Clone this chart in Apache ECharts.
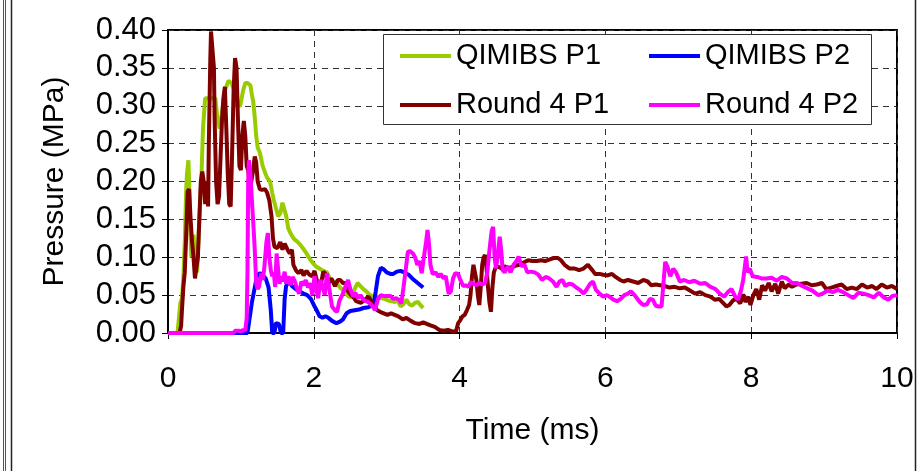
<!DOCTYPE html>
<html>
<head>
<meta charset="utf-8">
<script src="https://cdn.jsdelivr.net/npm/echarts@6/dist/echarts.min.js"></script>
<style>
html,body{margin:0;padding:0;background:#fff;}
#c{width:923px;height:471px;}
</style>
</head>
<body>
<div id="c"></div>
<script>
// Axis ticks
const xTicks = [0, 2, 4, 6, 8, 10];
const yTicks = [0, 0.05, 0.10, 0.15, 0.20, 0.25, 0.30, 0.35, 0.40];

// Series: [time (ms), pressure (MPa)]
const qimibsP1 = [[0,0],[0.13,0],[0.15,0.02],[0.17,0.04],[0.19,0.045],[0.21,0.07],[0.23,0.12],[0.25,0.19],[0.26,0.21],[0.28,0.228],[0.29,0.2],[0.30,0.15],[0.32,0.10],[0.34,0.12],[0.35,0.13],[0.37,0.10],[0.38,0.09],[0.40,0.08],[0.42,0.13],[0.44,0.17],[0.46,0.21],[0.48,0.27],[0.51,0.31],[0.55,0.31],[0.60,0.31],[0.65,0.31],[0.68,0.28],[0.71,0.27],[0.74,0.29],[0.78,0.32],[0.83,0.333],[0.87,0.33],[0.91,0.32],[0.95,0.30],[0.99,0.30],[1.03,0.32],[1.06,0.33],[1.09,0.33],[1.13,0.327],[1.15,0.315],[1.17,0.305],[1.19,0.285],[1.21,0.26],[1.23,0.245],[1.26,0.238],[1.30,0.22],[1.33,0.212],[1.36,0.205],[1.40,0.20],[1.43,0.185],[1.45,0.176],[1.48,0.165],[1.51,0.154],[1.54,0.158],[1.57,0.172],[1.59,0.17],[1.62,0.155],[1.65,0.138],[1.69,0.13],[1.73,0.124],[1.77,0.121],[1.81,0.117],[1.85,0.112],[1.90,0.105],[1.95,0.097],[1.99,0.092],[2.04,0.087],[2.08,0.085],[2.13,0.082],[2.18,0.080],[2.22,0.072],[2.27,0.068],[2.31,0.066],[2.36,0.060],[2.40,0.057],[2.44,0.052],[2.48,0.048],[2.52,0.047],[2.56,0.058],[2.60,0.066],[2.64,0.062],[2.68,0.058],[2.72,0.055],[2.77,0.050],[2.82,0.048],[2.87,0.048],[2.92,0.046],[2.97,0.045],[3.02,0.043],[3.07,0.042],[3.11,0.041],[3.15,0.043],[3.19,0.035],[3.23,0.038],[3.27,0.044],[3.31,0.038],[3.35,0.036],[3.39,0.040],[3.43,0.041],[3.47,0.036],[3.50,0.033]];

const qimibsP2 = [[0,0],[1.09,0],[1.12,0.02],[1.15,0.04],[1.19,0.06],[1.22,0.075],[1.26,0.079],[1.30,0.076],[1.34,0.072],[1.38,0.06],[1.41,0.03],[1.43,0.0],[1.46,0.0],[1.48,0.013],[1.52,0.012],[1.55,0.0],[1.58,0.0],[1.60,0.045],[1.62,0.062],[1.66,0.068],[1.70,0.062],[1.75,0.058],[1.80,0.055],[1.86,0.052],[1.91,0.050],[1.96,0.045],[2.00,0.037],[2.04,0.030],[2.08,0.022],[2.12,0.020],[2.16,0.022],[2.20,0.020],[2.25,0.016],[2.31,0.013],[2.36,0.015],[2.40,0.018],[2.45,0.026],[2.50,0.029],[2.56,0.030],[2.62,0.031],[2.68,0.033],[2.75,0.034],[2.82,0.038],[2.85,0.055],[2.88,0.075],[2.92,0.086],[2.96,0.084],[3.00,0.080],[3.05,0.078],[3.09,0.078],[3.14,0.081],[3.19,0.082],[3.24,0.080],[3.30,0.077],[3.35,0.072],[3.40,0.068],[3.45,0.064],[3.50,0.060]];

const round4P1 = [[0,0],[0.16,0],[0.18,0.01],[0.19,0.028],[0.21,0.06],[0.23,0.08],[0.25,0.13],[0.27,0.187],[0.29,0.19],[0.31,0.15],[0.33,0.12],[0.35,0.10],[0.37,0.072],[0.39,0.07],[0.41,0.10],[0.43,0.15],[0.45,0.20],[0.47,0.213],[0.49,0.20],[0.51,0.17],[0.53,0.20],[0.55,0.167],[0.56,0.25],[0.58,0.36],[0.59,0.398],[0.61,0.40],[0.63,0.35],[0.64,0.28],[0.66,0.20],[0.68,0.17],[0.70,0.18],[0.72,0.23],[0.74,0.28],[0.76,0.31],[0.78,0.325],[0.80,0.27],[0.82,0.21],[0.84,0.17],[0.86,0.167],[0.88,0.24],[0.90,0.32],[0.92,0.363],[0.94,0.35],[0.96,0.28],[0.98,0.22],[1.00,0.215],[1.02,0.26],[1.04,0.28],[1.06,0.26],[1.08,0.22],[1.10,0.215],[1.13,0.193],[1.16,0.21],[1.19,0.233],[1.21,0.225],[1.23,0.20],[1.26,0.19],[1.29,0.189],[1.33,0.19],[1.36,0.185],[1.39,0.175],[1.42,0.154],[1.44,0.125],[1.46,0.114],[1.50,0.112],[1.54,0.12],[1.57,0.11],[1.60,0.118],[1.64,0.11],[1.67,0.105],[1.70,0.11],[1.72,0.09],[1.76,0.082],[1.79,0.079],[1.83,0.083],[1.86,0.076],[1.90,0.082],[1.94,0.077],[1.98,0.075],[2.01,0.082],[2.04,0.07],[2.07,0.066],[2.10,0.066],[2.13,0.081],[2.16,0.078],[2.20,0.065],[2.24,0.072],[2.29,0.062],[2.33,0.07],[2.36,0.07],[2.40,0.066],[2.43,0.066],[2.47,0.055],[2.51,0.05],[2.54,0.048],[2.58,0.042],[2.61,0.041],[2.65,0.04],[2.70,0.044],[2.75,0.048],[2.79,0.042],[2.83,0.035],[2.87,0.03],[2.91,0.028],[2.96,0.026],[3.01,0.024],[3.06,0.026],[3.11,0.024],[3.16,0.022],[3.22,0.018],[3.27,0.02],[3.33,0.016],[3.39,0.013],[3.45,0.012],[3.50,0.014],[3.55,0.012],[3.60,0.01],[3.66,0.008],[3.72,0.004],[3.78,0.003],[3.84,0.004],[3.90,0.002],[3.95,0.002],[3.98,0.013],[4.01,0.017],[4.04,0.022],[4.07,0.024],[4.10,0.03],[4.13,0.037],[4.15,0.05],[4.17,0.075],[4.19,0.09],[4.21,0.09],[4.23,0.07],[4.25,0.05],[4.27,0.037],[4.29,0.06],[4.31,0.09],[4.33,0.10],[4.35,0.103],[4.37,0.085],[4.39,0.06],[4.41,0.04],[4.43,0.028],[4.45,0.06],[4.47,0.08],[4.50,0.088],[4.54,0.087],[4.58,0.085],[4.62,0.088],[4.67,0.086],[4.72,0.087],[4.77,0.089],[4.83,0.09],[4.88,0.093],[4.94,0.096],[5.00,0.095],[5.06,0.095],[5.12,0.096],[5.17,0.095],[5.23,0.097],[5.29,0.099],[5.35,0.099],[5.39,0.096],[5.44,0.09],[5.51,0.085],[5.58,0.085],[5.64,0.083],[5.70,0.085],[5.76,0.09],[5.82,0.083],[5.86,0.078],[5.92,0.078],[5.97,0.077],[6.03,0.076],[6.09,0.078],[6.14,0.074],[6.20,0.07],[6.25,0.068],[6.31,0.07],[6.38,0.068],[6.45,0.066],[6.52,0.07],[6.58,0.068],[6.63,0.063],[6.69,0.064],[6.75,0.063],[6.81,0.062],[6.88,0.06],[6.95,0.061],[7.02,0.059],[7.09,0.06],[7.16,0.056],[7.23,0.052],[7.30,0.054],[7.37,0.05],[7.44,0.048],[7.50,0.044],[7.56,0.045],[7.61,0.04],[7.66,0.035],[7.70,0.037],[7.75,0.043],[7.80,0.045],[7.85,0.039],[7.89,0.051],[7.92,0.041],[7.96,0.048],[7.99,0.037],[8.03,0.05],[8.07,0.058],[8.11,0.044],[8.15,0.063],[8.19,0.056],[8.24,0.066],[8.28,0.055],[8.33,0.065],[8.37,0.052],[8.42,0.068],[8.46,0.059],[8.51,0.064],[8.56,0.061],[8.62,0.064],[8.69,0.065],[8.76,0.066],[8.83,0.063],[8.90,0.064],[8.97,0.066],[9.03,0.058],[9.10,0.06],[9.17,0.062],[9.24,0.064],[9.31,0.058],[9.38,0.06],[9.45,0.058],[9.52,0.064],[9.59,0.06],[9.66,0.062],[9.72,0.058],[9.79,0.064],[9.86,0.06],[9.93,0.062],[10.0,0.058]];

const round4P2 = [[0,0],[0.90,0],[0.92,0.003],[0.94,0.001],[0.97,0.003],[1.00,0.002],[1.03,0.004],[1.06,0.003],[1.08,0.02],[1.09,0.08],[1.10,0.20],[1.11,0.228],[1.12,0.23],[1.13,0.21],[1.15,0.176],[1.17,0.145],[1.19,0.11],[1.21,0.066],[1.23,0.058],[1.25,0.062],[1.28,0.079],[1.30,0.07],[1.32,0.085],[1.35,0.12],[1.37,0.132],[1.39,0.1],[1.41,0.083],[1.43,0.075],[1.45,0.08],[1.47,0.061],[1.49,0.105],[1.51,0.085],[1.53,0.065],[1.55,0.075],[1.57,0.068],[1.60,0.081],[1.62,0.065],[1.65,0.075],[1.68,0.063],[1.71,0.074],[1.74,0.068],[1.77,0.058],[1.80,0.052],[1.83,0.068],[1.86,0.063],[1.89,0.07],[1.92,0.06],[1.95,0.066],[1.98,0.05],[2.01,0.075],[2.04,0.055],[2.06,0.046],[2.09,0.07],[2.12,0.062],[2.15,0.05],[2.18,0.079],[2.21,0.06],[2.25,0.035],[2.29,0.03],[2.32,0.028],[2.35,0.042],[2.39,0.05],[2.43,0.06],[2.47,0.07],[2.50,0.058],[2.54,0.048],[2.57,0.053],[2.61,0.046],[2.64,0.05],[2.68,0.044],[2.72,0.042],[2.76,0.04],[2.80,0.036],[2.84,0.03],[2.88,0.045],[2.92,0.05],[2.96,0.049],[3.00,0.049],[3.05,0.049],[3.09,0.045],[3.13,0.046],[3.17,0.044],[3.20,0.039],[3.23,0.06],[3.26,0.083],[3.29,0.107],[3.32,0.108],[3.36,0.105],[3.39,0.1],[3.42,0.09],[3.45,0.095],[3.48,0.079],[3.51,0.1],[3.54,0.12],[3.56,0.136],[3.58,0.118],[3.60,0.09],[3.63,0.078],[3.67,0.08],[3.71,0.074],[3.74,0.078],[3.78,0.072],[3.81,0.075],[3.85,0.052],[3.88,0.055],[3.91,0.072],[3.94,0.079],[3.98,0.078],[4.01,0.07],[4.05,0.062],[4.08,0.063],[4.12,0.061],[4.15,0.067],[4.19,0.065],[4.23,0.063],[4.27,0.066],[4.31,0.064],[4.35,0.066],[4.38,0.08],[4.41,0.11],[4.44,0.135],[4.46,0.14],[4.48,0.1],[4.50,0.085],[4.52,0.1],[4.55,0.127],[4.57,0.11],[4.59,0.083],[4.62,0.08],[4.66,0.088],[4.70,0.08],[4.74,0.09],[4.78,0.095],[4.81,0.101],[4.85,0.088],[4.89,0.09],[4.93,0.08],[4.98,0.081],[5.03,0.08],[5.08,0.077],[5.13,0.07],[5.18,0.074],[5.23,0.072],[5.28,0.068],[5.33,0.061],[5.37,0.068],[5.41,0.07],[5.45,0.062],[5.50,0.065],[5.55,0.064],[5.60,0.06],[5.65,0.057],[5.70,0.052],[5.74,0.057],[5.79,0.065],[5.83,0.068],[5.87,0.057],[5.92,0.052],[5.97,0.048],[6.02,0.05],[6.07,0.047],[6.11,0.044],[6.16,0.042],[6.21,0.045],[6.26,0.05],[6.31,0.052],[6.35,0.055],[6.40,0.05],[6.44,0.045],[6.48,0.04],[6.52,0.037],[6.57,0.038],[6.61,0.045],[6.65,0.044],[6.69,0.036],[6.73,0.035],[6.77,0.035],[6.80,0.07],[6.82,0.094],[6.85,0.088],[6.89,0.075],[6.93,0.085],[6.97,0.08],[7.02,0.068],[7.08,0.07],[7.15,0.067],[7.22,0.069],[7.30,0.065],[7.37,0.066],[7.44,0.061],[7.51,0.058],[7.57,0.052],[7.63,0.048],[7.68,0.054],[7.73,0.058],[7.78,0.048],[7.82,0.044],[7.86,0.056],[7.89,0.07],[7.91,0.085],[7.93,0.101],[7.95,0.08],[7.98,0.085],[8.02,0.075],[8.08,0.074],[8.14,0.072],[8.21,0.072],[8.28,0.073],[8.35,0.069],[8.42,0.074],[8.49,0.072],[8.56,0.066],[8.63,0.066],[8.70,0.062],[8.77,0.059],[8.84,0.056],[8.92,0.05],[8.98,0.052],[9.05,0.056],[9.12,0.054],[9.19,0.057],[9.26,0.054],[9.33,0.05],[9.40,0.046],[9.47,0.053],[9.54,0.052],[9.61,0.05],[9.68,0.047],[9.75,0.053],[9.82,0.047],[9.88,0.044],[9.94,0.049],[10.0,0.05]];

const seriesNames = ['QIMIBS P1', 'QIMIBS P2', 'Round 4 P1', 'Round 4 P2'];
const seriesColors = ['#99cc00', '#0000ff', '#800000', '#ff00ff'];
const seriesData = [qimibsP1, qimibsP2, round4P1, round4P2];

const FONT = 'Liberation Sans, Arial, sans-serif';
const chart = echarts.init(document.getElementById('c'), null, {renderer: 'canvas'});

const legendCommon = {
  orient: 'vertical', top: 41, padding: 0, itemGap: 19,
  icon: 'rect', itemWidth: 51, itemHeight: 4,
  textStyle: {fontFamily: FONT, fontSize: 29, color: '#000', lineHeight: 30},
  selectedMode: false
};

chart.setOption({
  animation: false,
  backgroundColor: '#fff',
  grid: {left: 168, right: 26, top: 30, bottom: 138, show: true, borderColor: '#000', borderWidth: 2, backgroundColor: 'transparent'},
  legend: [
    Object.assign({}, legendCommon, {left: 400, data: [seriesNames[0], seriesNames[2]]}),
    Object.assign({}, legendCommon, {left: 649, data: [seriesNames[1], seriesNames[3]]})
  ],
  graphic: {elements: [
    {type: 'rect', z: 3, shape: {x: 383.5, y: 34.5, width: 488, height: 90}, style: {fill: '#fff', stroke: '#333', lineWidth: 1}},
    {type: 'line', z: 10, shape: {x1: 3.5, y1: 0, x2: 3.5, y2: 471}, style: {stroke: '#555', lineWidth: 1}},
    {type: 'line', z: 10, shape: {x1: 5.5, y1: 0, x2: 5.5, y2: 471}, style: {stroke: '#555', lineWidth: 1}},
    {type: 'line', z: 10, shape: {x1: 11.5, y1: 0, x2: 11.5, y2: 471}, style: {stroke: '#222', lineWidth: 1.5}},
    {type: 'line', z: 10, shape: {x1: 915.5, y1: 0, x2: 915.5, y2: 471}, style: {stroke: '#222', lineWidth: 1.5}}
  ]},
  xAxis: {
    type: 'value', min: xTicks[0], max: xTicks[xTicks.length - 1], interval: 2,
    name: 'Time (ms)', nameLocation: 'middle', nameGap: 83,
    nameTextStyle: {fontFamily: FONT, fontSize: 30, color: '#000'},
    axisLine: {show: true, onZero: false, lineStyle: {color: '#000', width: 2}},
    axisTick: {show: true, length: 6, lineStyle: {color: '#000', width: 1}},
    axisLabel: {fontFamily: FONT, fontSize: 30, color: '#000', margin: 31},
    splitLine: {show: true, lineStyle: {color: '#333', type: [6, 5], width: 1}}
  },
  yAxis: {
    type: 'value', min: yTicks[0], max: yTicks[yTicks.length - 1], interval: 0.05,
    name: 'Pressure (MPa)', nameLocation: 'middle', nameGap: 98,
    nameTextStyle: {fontFamily: FONT, fontSize: 30, color: '#000'},
    axisLine: {show: true, onZero: false, lineStyle: {color: '#000', width: 2}},
    axisTick: {show: true, length: 6, lineStyle: {color: '#000', width: 1}},
    axisLabel: {fontFamily: FONT, fontSize: 31, color: '#000', margin: 12, formatter: v => v.toFixed(2)},
    splitLine: {show: true, lineStyle: {color: '#333', type: [6, 5], width: 1}}
  },
  series: seriesNames.map((n, i) => ({
    name: n, type: 'line', data: seriesData[i], showSymbol: false, symbol: 'none',
    lineStyle: {color: seriesColors[i], width: 4}, itemStyle: {color: seriesColors[i]},
    z: 2 + i
  }))
});
</script>
</body>
</html>
